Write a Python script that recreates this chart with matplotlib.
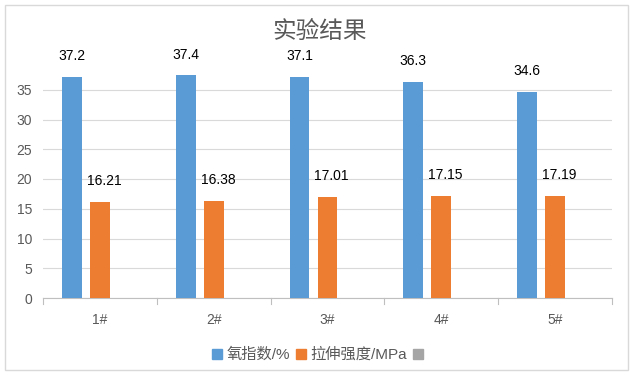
import matplotlib
matplotlib.use("Agg")
import matplotlib.pyplot as plt
from matplotlib.patches import Rectangle, Patch
import numpy as np

plt.rcParams['font.family'] = ['Liberation Sans', 'Noto Sans CJK SC', 'DejaVu Sans']

categories = ['1#', '2#', '3#', '4#', '5#']
oxygen_index = [37.2, 37.4, 37.1, 36.3, 34.6]
tensile_strength = [16.21, 16.38, 17.01, 17.15, 17.19]
series_names = ['氧指数/%', '拉伸强度/MPa', '']
title = '实验结果'

blue = '#5B9BD5'
orange = '#ED7D31'
grey = '#A5A5A5'
text_grey = '#595959'

fig = plt.figure(figsize=(6.4, 3.86), dpi=100)
fig.patches.append(Rectangle((5/640, 1-370/386), 623/640, 365/386, transform=fig.transFigure,
                             fill=False, edgecolor='#D9D9D9', linewidth=1))
ax = fig.add_axes([43/640, 1-298/386, 569/640, 238/386])

x = np.arange(len(categories))
w = 0.175
off = 0.246
ax.bar(x - off, oxygen_index, w, color=blue, zorder=3)
ax.bar(x, tensile_strength, w, color=orange, zorder=3)

for xi, v in zip(x - off, oxygen_index):
    ax.annotate(f'{v}', (xi, v), xytext=(0, 15), textcoords='offset points',
                ha='center', va='center', fontsize=10, color='black')
for xi, v in zip(x, tensile_strength):
    ax.annotate(f'{v:.2f}', (xi, v), xytext=(3, 15), textcoords='offset points',
                ha='center', va='center', fontsize=10, color='black')

ax.set_xlim(-0.5, len(categories) - 0.5)
ax.set_ylim(0, 40)
ax.set_yticks(range(0, 40, 5))
ax.grid(axis='y', color='#D9D9D9', linewidth=0.8, zorder=0)
ax.set_xticks(x)
ax.set_xticklabels(categories)
ax.tick_params(axis='y', length=0, labelsize=10, labelcolor=text_grey, pad=8)
ax.tick_params(axis='x', length=0, labelsize=10, labelcolor=text_grey, pad=11)
for s in ['top', 'right', 'left']:
    ax.spines[s].set_visible(False)
ax.spines['bottom'].set_color('#BFBFBF')
for b in np.arange(-0.5, len(categories), 1.0):
    ax.plot([b, b], [0, -1.0], color='#BFBFBF', linewidth=0.8, clip_on=False)

fig.text(0.5, 1-32/386, title, ha='center', va='center', fontsize=17, color=text_grey)

handles = [Patch(color=blue), Patch(color=orange), Patch(color=grey)]
fig.legend(handles, series_names, loc='center', bbox_to_anchor=(0.5, 1-355/386),
           ncol=3, frameon=False, fontsize=11, labelcolor=text_grey,
           handlelength=0.65, handleheight=0.65, handletextpad=0.3, columnspacing=0.4)

fig.savefig('out.png', dpi=100)
